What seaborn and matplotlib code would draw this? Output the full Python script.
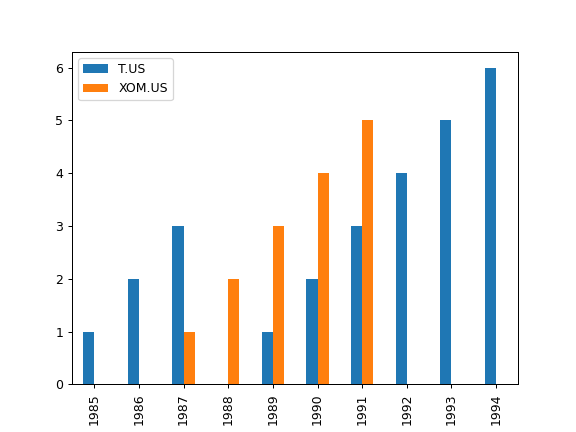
import matplotlib
matplotlib.use("Agg")
import matplotlib.pyplot as plt
import seaborn as sns
import pandas as pd

years = ["1985", "1986", "1987", "1988", "1989", "1990", "1991", "1992", "1993", "1994"]
t_us = [1, 2, 3, 0, 1, 2, 3, 4, 5, 6]
xom_us = [0, 0, 1, 2, 3, 4, 5, 0, 0, 0]
series_names = ["T.US", "XOM.US"]

df = pd.DataFrame({
    "year": years * 2,
    "value": t_us + xom_us,
    "series": [series_names[0]] * len(years) + [series_names[1]] * len(years),
})

fig, ax = plt.subplots(figsize=(6.4, 4.8), dpi=90)
sns.barplot(data=df, x="year", y="value", hue="series", order=years,
            hue_order=series_names, palette=["#1f77b4", "#ff7f0e"],
            width=0.5, saturation=1, legend=False, ax=ax)
ax.set_xlim(-0.5, 9.5)
ax.set_xlabel("")
ax.set_ylabel("")
ax.tick_params(axis="x", labelrotation=90)
ax.legend(ax.containers[:2], series_names, loc="upper left")
fig.savefig("out.png", dpi=90)
